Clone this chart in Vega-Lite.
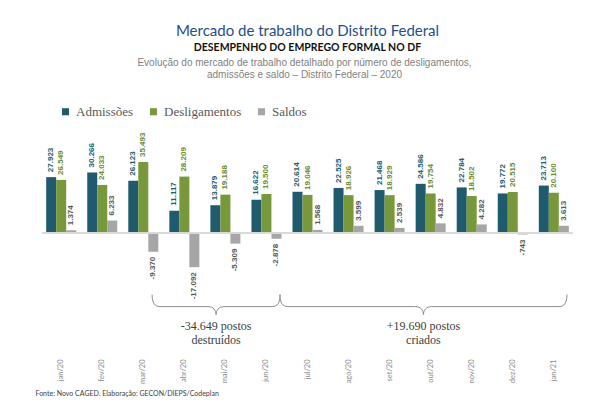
{
  "$schema": "https://vega.github.io/schema/vega-lite/v6.json",
  "background": "white",
  "autosize": {"type": "none"},
  "padding": {"left": 42, "right": 26, "top": 141, "bottom": 44},
  "width": 531,
  "height": 216,
  "title": {
    "text": "Mercado de trabalho do Distrito Federal",
    "subtitle": "DESEMPENHO DO EMPREGO FORMAL NO DF",
    "color": "#1f4e8c",
    "font": "Lato",
    "fontSize": 15,
    "fontWeight": "normal",
    "subtitleFont": "Lato",
    "subtitleFontSize": 10.5,
    "subtitleFontWeight": "bold",
    "subtitleColor": "#111111",
    "subtitlePadding": 4,
    "anchor": "middle",
    "offset": 4
  },
  "datasets": {
    "meses": [
      {"mes": "jan/20", "serie": "Admissões", "valor": 27923},
      {"mes": "jan/20", "serie": "Desligamentos", "valor": 26549},
      {"mes": "jan/20", "serie": "Saldos", "valor": 1374},
      {"mes": "fev/20", "serie": "Admissões", "valor": 30266},
      {"mes": "fev/20", "serie": "Desligamentos", "valor": 24033},
      {"mes": "fev/20", "serie": "Saldos", "valor": 6233},
      {"mes": "mar/20", "serie": "Admissões", "valor": 26123},
      {"mes": "mar/20", "serie": "Desligamentos", "valor": 35493},
      {"mes": "mar/20", "serie": "Saldos", "valor": -9370},
      {"mes": "abr/20", "serie": "Admissões", "valor": 11117},
      {"mes": "abr/20", "serie": "Desligamentos", "valor": 28209},
      {"mes": "abr/20", "serie": "Saldos", "valor": -17092},
      {"mes": "mai/20", "serie": "Admissões", "valor": 13879},
      {"mes": "mai/20", "serie": "Desligamentos", "valor": 19188},
      {"mes": "mai/20", "serie": "Saldos", "valor": -5309},
      {"mes": "jun/20", "serie": "Admissões", "valor": 16622},
      {"mes": "jun/20", "serie": "Desligamentos", "valor": 19500},
      {"mes": "jun/20", "serie": "Saldos", "valor": -2878},
      {"mes": "jul/20", "serie": "Admissões", "valor": 20614},
      {"mes": "jul/20", "serie": "Desligamentos", "valor": 19046},
      {"mes": "jul/20", "serie": "Saldos", "valor": 1568},
      {"mes": "ago/20", "serie": "Admissões", "valor": 22525},
      {"mes": "ago/20", "serie": "Desligamentos", "valor": 18926},
      {"mes": "ago/20", "serie": "Saldos", "valor": 3599},
      {"mes": "set/20", "serie": "Admissões", "valor": 21468},
      {"mes": "set/20", "serie": "Desligamentos", "valor": 18929},
      {"mes": "set/20", "serie": "Saldos", "valor": 2539},
      {"mes": "out/20", "serie": "Admissões", "valor": 24586},
      {"mes": "out/20", "serie": "Desligamentos", "valor": 19754},
      {"mes": "out/20", "serie": "Saldos", "valor": 4832},
      {"mes": "nov/20", "serie": "Admissões", "valor": 22784},
      {"mes": "nov/20", "serie": "Desligamentos", "valor": 18502},
      {"mes": "nov/20", "serie": "Saldos", "valor": 4282},
      {"mes": "dez/20", "serie": "Admissões", "valor": 19772},
      {"mes": "dez/20", "serie": "Desligamentos", "valor": 20515},
      {"mes": "dez/20", "serie": "Saldos", "valor": -743},
      {"mes": "jan/21", "serie": "Admissões", "valor": 23713},
      {"mes": "jan/21", "serie": "Desligamentos", "valor": 20100},
      {"mes": "jan/21", "serie": "Saldos", "valor": 3613}
    ],
    "anotacoes": [
      {"mes": "mai/20", "grupo": "destruidos", "texto": "-34.649 postos\ndestruídos"},
      {"mes": "out/20", "grupo": "criados", "texto": "+19.690 postos\ncriados"}
    ]
  },
  "layer": [
    {
      "data": {"name": "meses"},
      "mark": {"type": "bar"},
      "encoding": {
        "x": {
          "field": "mes",
          "type": "nominal",
          "sort": null,
          "scale": {"paddingInner": 0.269, "paddingOuter": 0.102},
          "axis": {
            "title": "Fonte: Novo CAGED. Elaboração: GECON/DIEPS/Codeplan",
            "titleFont": "Lato",
            "titleFontSize": 7,
            "titleFontWeight": "normal",
            "titleColor": "#404040",
            "titleAnchor": "start",
            "titleAlign": "left",
            "titleBaseline": "alphabetic",
            "titleX": -7,
            "titleY": 38,
            "domain": false,
            "ticks": false,
            "labelAngle": -90,
            "labelAlign": "right",
            "labelBaseline": "middle",
            "labelFont": "Lato",
            "labelFontSize": 7.5,
            "labelColor": "#8c8c8c",
            "labelPadding": 2
          }
        },
        "xOffset": {
          "field": "serie",
          "type": "nominal",
          "scale": {"paddingInner": 0, "paddingOuter": 0}
        },
        "y": {
          "field": "valor",
          "type": "quantitative",
          "scale": {"domain": [-62000, 46000], "nice": false},
          "axis": {
            "title": [
              "Evolução do mercado de trabalho detalhado por número de desligamentos,",
              "admissões e saldo – Distrito Federal – 2020"
            ],
            "titleAngle": 0,
            "titleAlign": "center",
            "titleBaseline": "alphabetic",
            "titleX": 262,
            "titleY": -76,
            "titleFont": "Liberation Sans",
            "titleFontSize": 10,
            "titleFontWeight": "normal",
            "titleColor": "#7f7f7f",
            "titleLineHeight": 12,
            "labels": false,
            "ticks": false,
            "domain": false,
            "grid": false
          }
        },
        "color": {
          "field": "serie",
          "type": "nominal",
          "scale": {"range": ["#1f5a6d", "#77993b", "#a6a6a6"]},
          "legend": {
            "title": null,
            "orient": "none",
            "legendX": 17,
            "legendY": -36,
            "direction": "horizontal",
            "symbolType": "square",
            "symbolSize": 50,
            "symbolStrokeWidth": 0,
            "labelFont": "Liberation Serif",
            "labelFontSize": 13,
            "labelColor": "#595959",
            "labelOffset": 4,
            "columnPadding": 13,
            "padding": 0
          }
        }
      }
    },
    {
      "data": {"name": "meses"},
      "mark": {"type": "rule", "color": "#d9d9d9", "strokeWidth": 1},
      "encoding": {"y": {"datum": 0, "type": "quantitative"}}
    },
    {
      "data": {"name": "meses"},
      "transform": [
        {"filter": "datum.valor >= 0 && datum.serie !== 'Desligamentos'"},
        {"calculate": "replace(format(datum.valor, ',d'), ',', '.')", "as": "rotulo"}
      ],
      "mark": {"type": "text", "angle": 270, "align": "left", "baseline": "middle", "dx": 5, "font": "Liberation Sans", "fontSize": 8, "fontWeight": "bold"},
      "encoding": {
        "x": {"field": "mes", "type": "nominal", "sort": null},
        "xOffset": {"field": "serie", "type": "nominal"},
        "y": {"field": "valor", "type": "quantitative"},
        "text": {"field": "rotulo", "type": "nominal"},
        "color": {
          "condition": {"test": "datum.serie === 'Admissões'", "value": "#245d71"},
          "value": "#595959"
        }
      }
    },
    {
      "data": {"name": "meses"},
      "transform": [
        {"filter": "datum.valor >= 0 && datum.serie === 'Desligamentos'"},
        {"calculate": "replace(format(datum.valor, ',d'), ',', '.')", "as": "rotulo"}
      ],
      "mark": {"type": "text", "angle": 270, "align": "left", "baseline": "middle", "dx": 5, "font": "Liberation Sans", "fontSize": 8, "fontWeight": "bold", "color": "#6c8c31"},
      "encoding": {
        "x": {"field": "mes", "type": "nominal", "sort": null},
        "xOffset": {"field": "serie", "type": "nominal"},
        "y": {"field": "valor", "type": "quantitative"},
        "text": {"field": "rotulo", "type": "nominal"}
      }
    },
    {
      "data": {"name": "meses"},
      "transform": [
        {"filter": "datum.valor < 0"},
        {"calculate": "'-' + replace(format(abs(datum.valor), ',d'), ',', '.')", "as": "rotulo"}
      ],
      "mark": {"type": "text", "angle": 270, "align": "right", "baseline": "middle", "dx": -5, "font": "Liberation Sans", "fontSize": 8, "fontWeight": "bold", "color": "#595959"},
      "encoding": {
        "x": {"field": "mes", "type": "nominal", "sort": null},
        "xOffset": {"field": "serie", "type": "nominal"},
        "y": {"field": "valor", "type": "quantitative"},
        "text": {"field": "rotulo", "type": "nominal"}
      }
    },
    {
      "data": {"name": "anotacoes"},
      "transform": [{"filter": "datum.grupo === 'destruidos'"}],
      "mark": {"type": "point", "shape": "M-1,-0.1875 C-1,-0.06 -0.96,0 -0.875,0 L-0.125,0 C-0.04,0 0,0.06 0,0.125 C0,0.06 0.04,0 0.125,0 L0.875,0 C0.96,0 1,-0.06 1,-0.1875", "size": 16384, "filled": false, "stroke": "#8c8c8c", "strokeWidth": 1, "opacity": 1},
      "encoding": {
        "x": {"field": "mes", "type": "nominal", "sort": null, "bandPosition": 0.19},
        "y": {"datum": -36800, "type": "quantitative"}
      }
    },
    {
      "data": {"name": "anotacoes"},
      "transform": [{"filter": "datum.grupo === 'destruidos'"}],
      "mark": {"type": "text", "align": "center", "baseline": "alphabetic", "lineBreak": "\n", "lineHeight": 14, "font": "Liberation Serif", "fontSize": 12, "color": "#404040"},
      "encoding": {
        "x": {"field": "mes", "type": "nominal", "sort": null, "bandPosition": 0.19},
        "y": {"datum": -48500, "type": "quantitative"},
        "text": {"field": "texto", "type": "nominal"}
      }
    },
    {
      "data": {"name": "anotacoes"},
      "transform": [{"filter": "datum.grupo === 'criados'"}],
      "mark": {"type": "point", "shape": "M-1,-0.0836 C-1,-0.027 -0.982,0 -0.944,0 L-0.056,0 C-0.018,0 0,0.027 0,0.0557 C0,0.027 0.018,0 0.056,0 L0.944,0 C0.982,0 1,-0.027 1,-0.0836", "size": 82369, "filled": false, "stroke": "#8c8c8c", "strokeWidth": 1, "opacity": 1},
      "encoding": {
        "x": {"field": "mes", "type": "nominal", "sort": null, "bandPosition": 0.26},
        "y": {"datum": -36800, "type": "quantitative"}
      }
    },
    {
      "data": {"name": "anotacoes"},
      "transform": [{"filter": "datum.grupo === 'criados'"}],
      "mark": {"type": "text", "align": "center", "baseline": "alphabetic", "lineBreak": "\n", "lineHeight": 14, "font": "Liberation Serif", "fontSize": 12, "color": "#404040"},
      "encoding": {
        "x": {"field": "mes", "type": "nominal", "sort": null, "bandPosition": 0.26},
        "y": {"datum": -48500, "type": "quantitative"},
        "text": {"field": "texto", "type": "nominal"}
      }
    }
  ],
  "config": {
    "view": {"stroke": null}
  }
}
